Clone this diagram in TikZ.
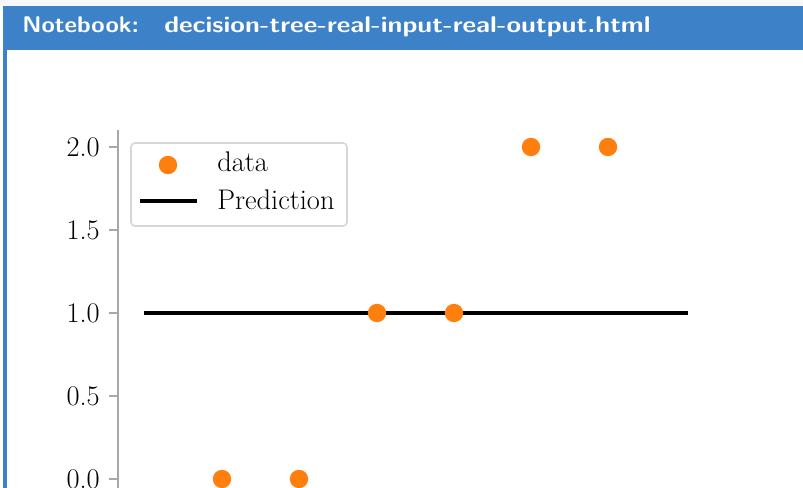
\documentclass[tikz,border=0pt]{standalone}
\definecolor{hdrblue}{HTML}{3D82C8}
\definecolor{dotorange}{HTML}{FF7F0E}
\definecolor{axgray}{HTML}{A8A8A8}
\definecolor{leggray}{HTML}{D6D6D6}
\definecolor{topgray}{HTML}{F7F7F7}
\tikzset{
  px/.style={x=0.75pt,y=-0.75pt},
  datadot/.style={circle,fill=dotorange,inner sep=0pt,minimum size=13.8pt},
  ticklbl/.style={anchor=east,inner sep=0pt,font=\fontsize{21.3}{24}\selectfont},
  legtxt/.style={anchor=base west,inner sep=0pt,font=\fontsize{21.3}{24}\selectfont},
  axline/.style={draw=axgray,line width=1pt},
  predline/.style={draw=black,line width=2.6pt},
  hdrtxt/.style={anchor=base west,inner sep=0pt,text=white,font=\sffamily\bfseries\fontsize{17}{20}\selectfont},
}
\begin{document}
\begin{tikzpicture}[px]
\useasboundingbox (0,0) rectangle (803,488);
\fill[white] (0,0) rectangle (803,488);
\fill[topgray] (0,0) rectangle (803,6);
% notebook frame
\fill[hdrblue] (3,6) rectangle (803,50);
\fill[hdrblue] (3,50) rectangle (7,488);
\node[hdrtxt] (title) at (22,32.5) {\scalebox{1.07}[1]{Notebook:}};
\node[hdrtxt] (fname) at (164,32.5) {\scalebox{1.17}[1]{decision-tree-real-input-real-output.html}};
% axis
\coordinate (axtop) at (118,130);
\coordinate (axbot) at (118,488);
\draw[axline] (axtop) -- (axbot);
\foreach \v/\yy in {2.0/147,1.5/230,1.0/313,0.5/396,0.0/479}{
  \coordinate (t\yy) at (118,\yy);
  \coordinate (tl\yy) at (109,\yy);
  \draw[axline] (tl\yy) -- (t\yy);
  \node[ticklbl] (lbl\yy) at (100,\yy) {\v};
}
% prediction
\coordinate (p0) at (144,313);
\coordinate (p1) at (688,313);
\draw[predline] (p0) -- (p1);
% data
\node[datadot] (d1) at (222,479) {};
\node[datadot] (d2) at (299,479) {};
\node[datadot] (d3) at (377,313) {};
\node[datadot] (d4) at (454,313) {};
\node[datadot] (d5) at (531,147) {};
\node[datadot] (d6) at (608,147) {};
% legend
\draw[leggray,line width=1.2pt,rounded corners=3pt] (131,143) rectangle (347,226);
\node[datadot] (ld) at (168,165) {};
\coordinate (l0) at (140,201);
\coordinate (l1) at (197,201);
\draw[predline] (l0) -- (l1);
\node[legtxt] (ltd) at (217,172) {data};
\node[legtxt] (ltp) at (217,210) {Prediction};
\end{tikzpicture}
\end{document}
